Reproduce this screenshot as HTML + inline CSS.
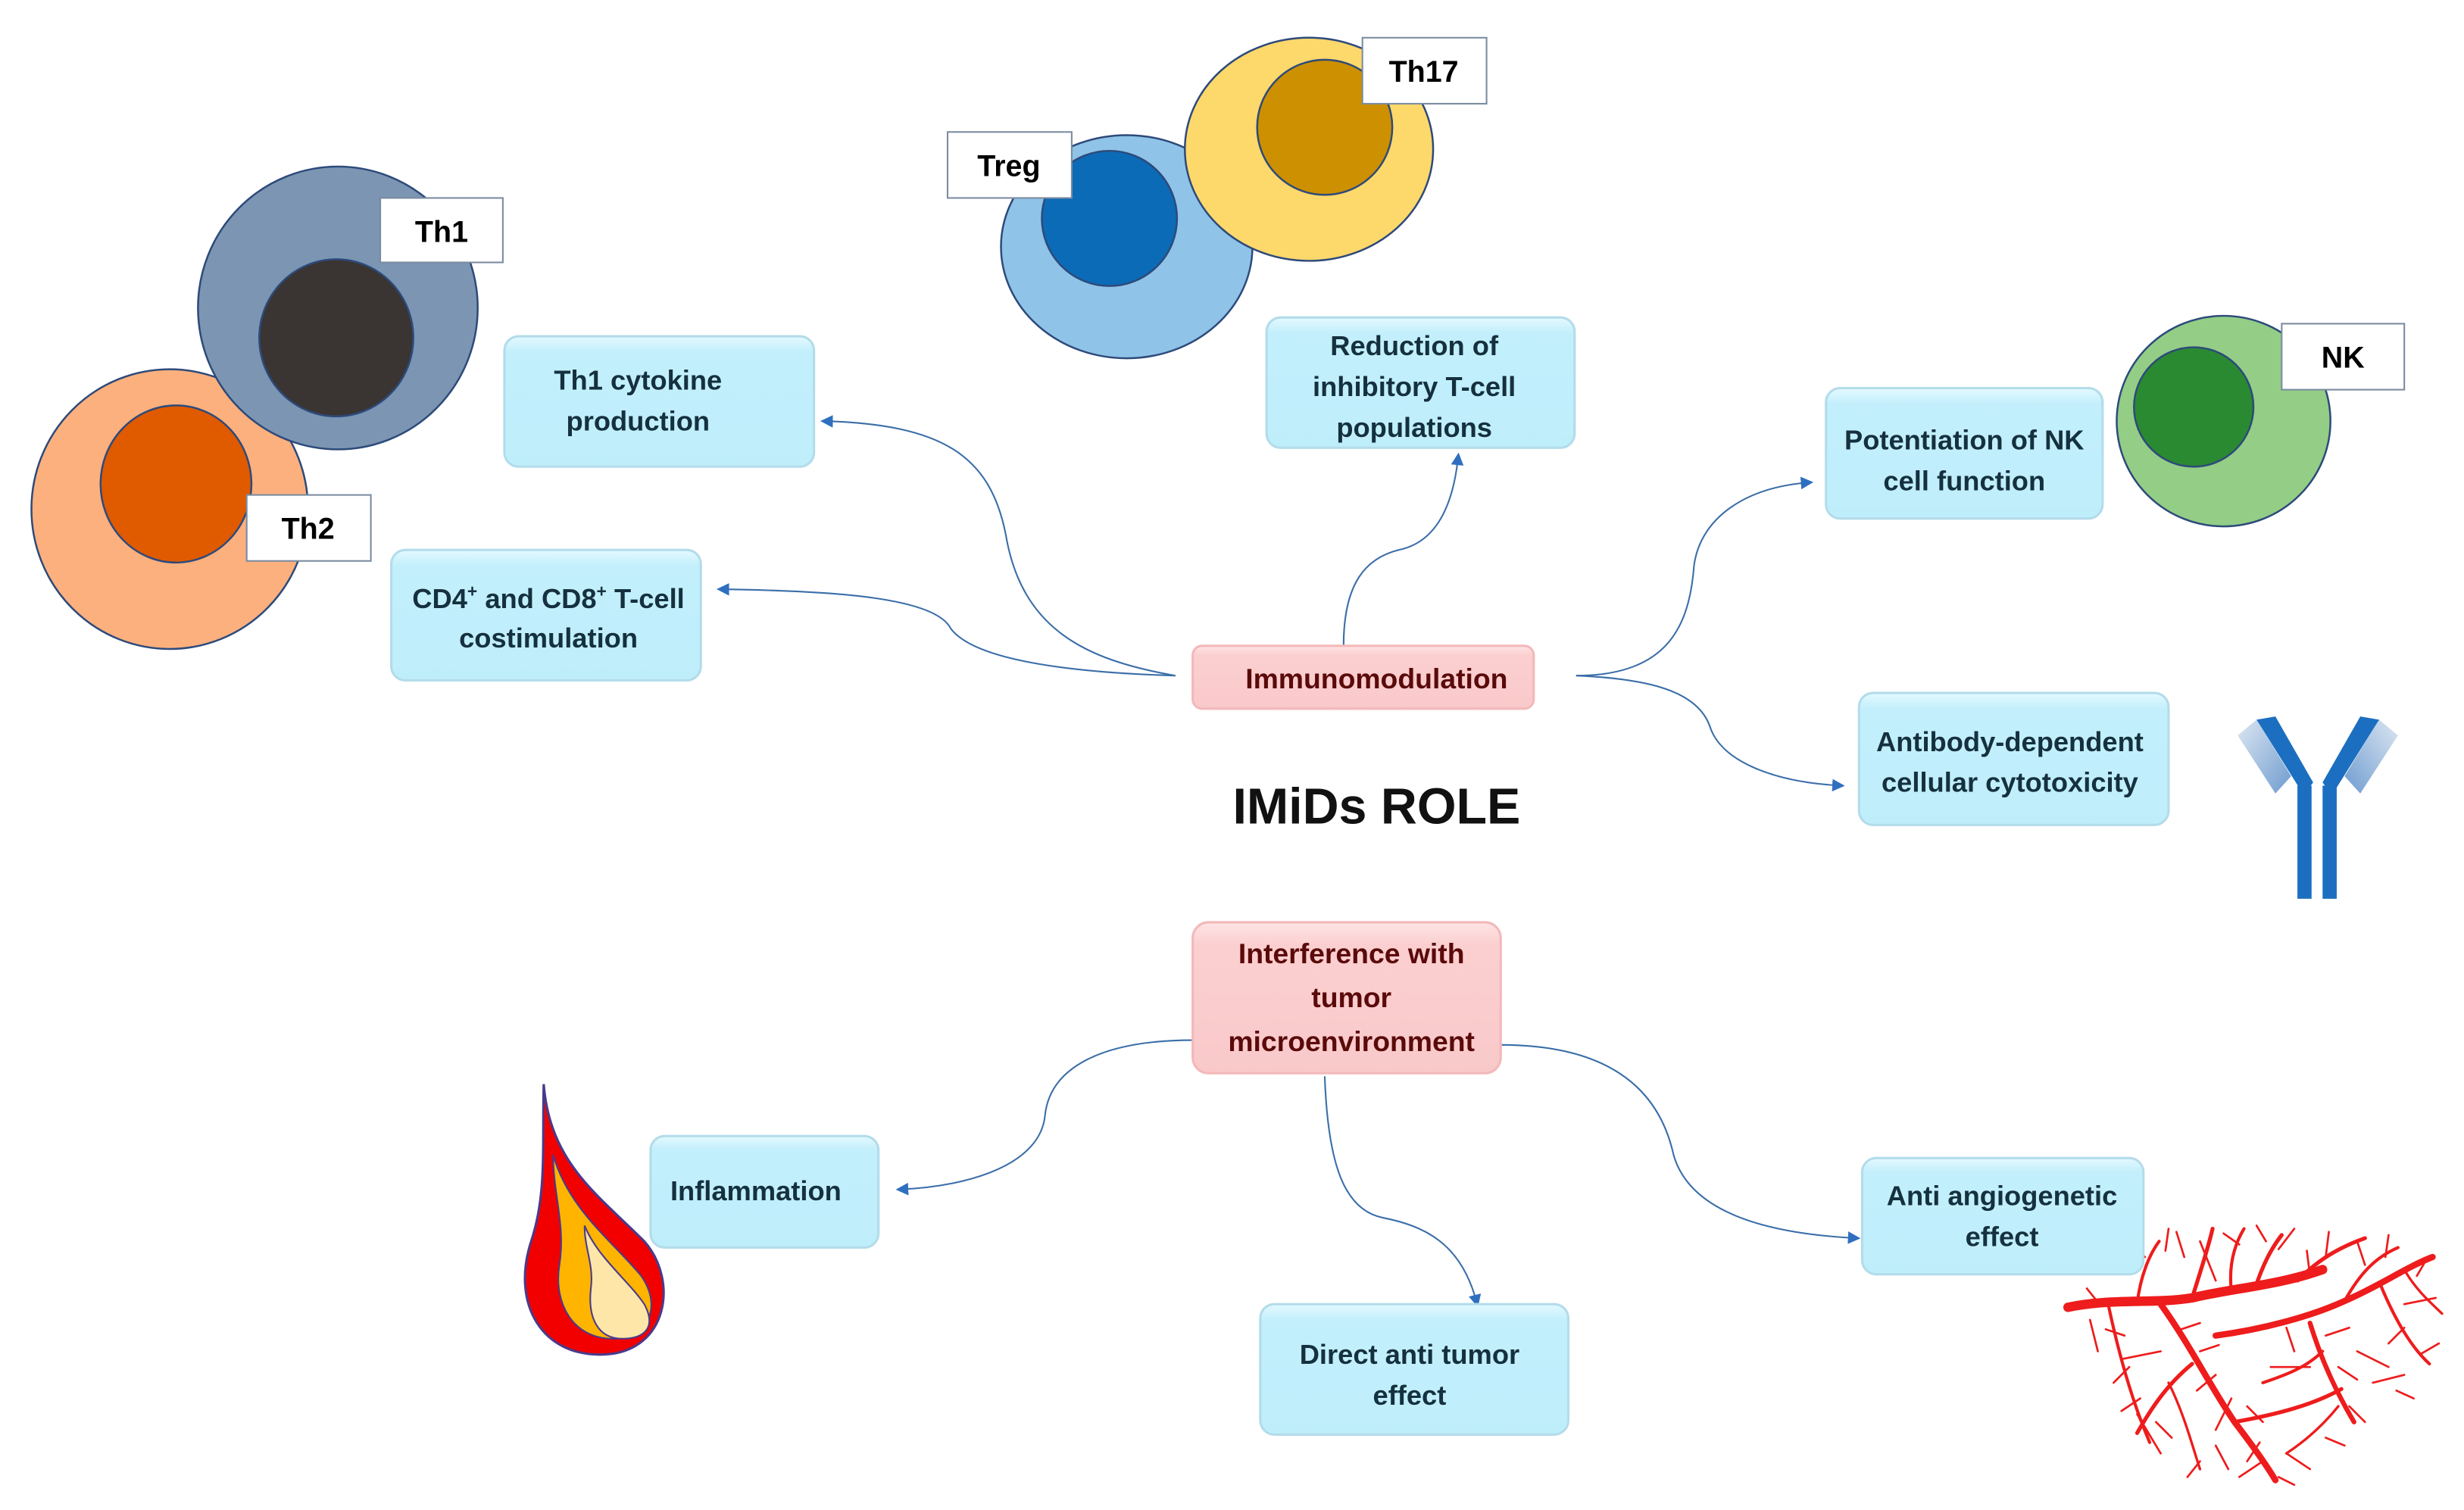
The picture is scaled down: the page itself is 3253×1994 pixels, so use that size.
<!DOCTYPE html>
<html><head><meta charset="utf-8"><style>
html,body{margin:0;padding:0;background:#fff}
svg{display:block}
text{font-family:"Liberation Sans",sans-serif;font-weight:bold}
</style></head><body>
<svg width="3253" height="1994" viewBox="0 0 1568 961" preserveAspectRatio="none" xmlns="http://www.w3.org/2000/svg">
<defs>
<marker id="a" markerWidth="8" markerHeight="8" refX="6" refY="4" orient="auto" markerUnits="userSpaceOnUse"><path d="M0,0 L8,4 L0,8 Z" fill="#2f6fbf"/></marker>
<linearGradient id="bx" x1="0" y1="0" x2="0" y2="1"><stop offset="0" stop-color="#e4f9ff"/><stop offset="0.12" stop-color="#c3effc"/><stop offset="1" stop-color="#bfeefb"/></linearGradient>
<linearGradient id="pk" x1="0" y1="0" x2="0" y2="1"><stop offset="0" stop-color="#ffe4e4"/><stop offset="0.15" stop-color="#fbcfd0"/><stop offset="1" stop-color="#f9c9ca"/></linearGradient>
<linearGradient id="abl" x1="0" y1="0" x2="1" y2="1"><stop offset="0" stop-color="#dce6f2"/><stop offset="1" stop-color="#6f9ccf"/></linearGradient>
<linearGradient id="abr" x1="1" y1="0" x2="0" y2="1"><stop offset="0" stop-color="#dce6f2"/><stop offset="1" stop-color="#6f9ccf"/></linearGradient>
</defs>
<!-- cells -->
<ellipse cx="108" cy="324" rx="88" ry="89" fill="#fcb07e" stroke="#2d4a7a" stroke-width="1.2"/>
<ellipse cx="112" cy="308" rx="48" ry="50" fill="#e05a00" stroke="#2d4a7a" stroke-width="1.2"/>
<ellipse cx="215" cy="196" rx="89" ry="90" fill="#7b95b3" stroke="#2d4a7a" stroke-width="1.2"/>
<ellipse cx="214" cy="215" rx="49" ry="50" fill="#3a3432" stroke="#2d4a7a" stroke-width="1.2"/>
<rect x="242" y="126" width="78" height="41" fill="#fff" stroke="#7a8ca0"/>
<text x="281" y="154" font-size="19" text-anchor="middle">Th1</text>
<rect x="157" y="315" width="79" height="42" fill="#fff" stroke="#7a8ca0"/>
<text x="196" y="343" font-size="19" text-anchor="middle">Th2</text>
<ellipse cx="717" cy="157" rx="80" ry="71" fill="#8fc3e8" stroke="#2d4a7a" stroke-width="1.2"/>
<ellipse cx="706" cy="139" rx="43" ry="43" fill="#0b6bb7" stroke="#2d4a7a" stroke-width="1.2"/>
<ellipse cx="833" cy="95" rx="79" ry="71" fill="#fdd86b" stroke="#2d4a7a" stroke-width="1.2"/>
<ellipse cx="843" cy="81" rx="43" ry="43" fill="#cc9000" stroke="#2d4a7a" stroke-width="1.2"/>
<rect x="603" y="84" width="79" height="42" fill="#fff" stroke="#7a8ca0"/>
<text x="642" y="112" font-size="19" text-anchor="middle">Treg</text>
<rect x="867" y="24" width="79" height="42" fill="#fff" stroke="#7a8ca0"/>
<text x="906" y="52" font-size="19" text-anchor="middle">Th17</text>
<ellipse cx="1415" cy="268" rx="68" ry="67" fill="#93cd86" stroke="#2d4a7a" stroke-width="1.2"/>
<ellipse cx="1396" cy="259" rx="38" ry="38" fill="#2a8a31" stroke="#2d4a7a" stroke-width="1.2"/>
<rect x="1452" y="206" width="78" height="42" fill="#fff" stroke="#7a8ca0"/>
<text x="1491" y="234" font-size="19" text-anchor="middle">NK</text>
<!-- antibody -->
<path d="M1424,468 L1436,458 L1458,494 L1448,505 Z" fill="url(#abl)"/>
<path d="M1526,468 L1514,458 L1492,494 L1502,505 Z" fill="url(#abr)"/>
<path d="M1436,458 L1448,456 L1472,498 L1466,506 Z" fill="#1c6fc0"/>
<path d="M1514,458 L1502,456 L1478,498 L1484,506 Z" fill="#1c6fc0"/>
<rect x="1462" y="500" width="9" height="72" fill="#1c6fc0"/>
<rect x="1478" y="500" width="9" height="72" fill="#1c6fc0"/>
<!-- flame -->
<path d="M346,690 C350,740 380,760 410,790 C432,815 425,860 385,862 C345,864 325,830 338,790 C348,760 345,730 346,690 Z" fill="#f20000" stroke="#4a3a8a" stroke-width="1.5"/>
<path d="M352,735 C362,770 390,790 408,812 C422,832 412,852 390,852 C365,852 352,830 356,805 C360,780 352,760 352,735 Z" fill="#ffb400" stroke="#4a3a8a" stroke-width="1"/>
<path d="M372,780 C380,800 400,815 410,830 C418,845 410,852 396,852 C380,852 374,838 376,820 C378,805 372,795 372,780 Z" fill="#fee6a8" stroke="#4a3a8a" stroke-width="1"/>
<!-- vessel tree -->
<g stroke="#ee1c1c" fill="none" stroke-linecap="round">
<path d="M1316,832 C1345,826 1370,830 1395,826 C1420,820 1450,818 1478,808" stroke-width="6"/>
<path d="M1375,830 C1395,858 1405,880 1422,905 C1435,922 1442,932 1448,942" stroke-width="4"/>
<path d="M1410,850 C1440,846 1470,838 1492,828 C1515,818 1532,806 1548,800" stroke-width="4"/>
<path d="M1395,826 C1400,810 1405,795 1408,782" stroke-width="2.5"/>
<path d="M1435,820 C1440,805 1445,795 1452,786" stroke-width="2.5"/>
<path d="M1462,815 C1475,802 1488,794 1505,788" stroke-width="2.5"/>
<path d="M1470,842 C1478,868 1488,888 1498,905" stroke-width="3"/>
<path d="M1395,868 C1378,882 1368,898 1360,912" stroke-width="2.5"/>
<path d="M1422,905 C1450,900 1472,894 1490,884" stroke-width="2.5"/>
<path d="M1342,832 C1348,860 1356,890 1368,918" stroke-width="2"/>
<path d="M1515,818 C1525,842 1535,858 1546,868" stroke-width="2"/>
<path d="M1492,828 C1502,810 1512,800 1526,794" stroke-width="2"/>
<path d="M1360,830 C1362,812 1368,798 1374,790" stroke-width="2"/>
<path d="M1420,822 C1418,805 1422,792 1428,782" stroke-width="2"/>
<path d="M1530,808 C1538,822 1548,830 1554,836" stroke-width="1.6"/>
<path d="M1440,880 C1455,875 1468,870 1478,860" stroke-width="2"/>
<path d="M1380,880 C1390,900 1395,920 1400,935" stroke-width="1.6"/>
<path d="M1455,925 C1470,915 1480,905 1488,895" stroke-width="1.6"/>
<g stroke-width="1.3">
<path d="M1400,790 L1410,815 M1390,800 L1385,784 M1450,795 L1460,782 M1480,800 L1482,784 M1530,830 L1550,826 M1500,860 L1520,870 M1445,870 L1470,870 M1420,890 L1410,910 M1375,860 L1350,865 M1440,930 L1425,940 M1455,925 L1470,935 M1330,840 L1335,860 M1360,900 L1375,925 M1510,880 L1530,875"/>
<path d="M1352,850 L1340,846 M1355,870 L1345,880 M1362,890 L1350,898 M1372,905 L1382,915 M1388,846 L1400,842 M1400,860 L1412,856 M1410,875 L1398,885 M1430,895 L1440,905 M1438,918 L1430,930 M1460,860 L1455,845 M1480,850 L1495,845 M1488,870 L1500,878 M1495,895 L1505,905 M1520,855 L1530,845 M1540,862 L1552,855 M1505,805 L1500,790 M1518,800 L1520,786 M1538,812 L1545,800 M1470,812 L1468,796 M1425,792 L1415,785 M1442,790 L1436,780 M1365,800 L1356,792 M1378,796 L1380,782 M1336,830 L1328,820 M1400,930 L1392,940 M1410,920 L1418,935 M1450,940 L1460,945 M1480,915 L1492,920 M1525,885 L1536,890"/>
</g>
</g>
<!-- connectors -->
<g fill="none" stroke="#3a6ea8" stroke-width="1" marker-end="url(#a)">
<path d="M748,430 C690,420 650,400 640,340 C630,290 600,270 524,268"/>
<path d="M748,430 C680,428 620,420 605,400 C595,380 530,376 458,375"/>
<path d="M855,411 C855,370 870,355 890,350 C915,345 925,320 928,290"/>
<path d="M1003,430 C1060,430 1075,400 1078,360 C1082,330 1110,310 1152,307"/>
<path d="M1003,430 C1050,432 1080,440 1088,462 C1095,485 1130,498 1172,500"/>
<path d="M759,662 C700,662 668,680 665,710 C662,740 620,755 572,757"/>
<path d="M843,685 C845,740 855,770 880,775 C905,780 930,790 940,830"/>
<path d="M955,665 C1020,665 1055,690 1065,735 C1075,770 1120,785 1182,788"/>
</g>
<!-- cyan boxes -->
<g fill="url(#bx)" stroke="#b3dcea" stroke-width="1.5">
<rect x="321" y="214" width="197" height="83" rx="9"/>
<rect x="806" y="202" width="196" height="83" rx="9"/>
<rect x="1162" y="247" width="176" height="83" rx="9"/>
<rect x="249" y="350" width="197" height="83" rx="9"/>
<rect x="1183" y="441" width="197" height="84" rx="9"/>
<rect x="414" y="723" width="145" height="71" rx="9"/>
<rect x="802" y="830" width="196" height="83" rx="9"/>
<rect x="1185" y="737" width="179" height="74" rx="9"/>
</g>
<g fill="url(#pk)" stroke="#f3b8ba" stroke-width="1.5">
<rect x="759" y="411" width="217" height="40" rx="6"/>
<rect x="759" y="587" width="196" height="96" rx="10"/>
</g>
<g font-size="17.5" fill="#15303e" text-anchor="middle">
<text x="406" y="248">Th1 cytokine</text><text x="406" y="274">production</text>
<text x="900" y="226">Reduction of</text><text x="900" y="252">inhibitory T-cell</text><text x="900" y="278">populations</text>
<text x="1250" y="286">Potentiation of NK</text><text x="1250" y="312">cell function</text>
<text x="349" y="387">CD4<tspan font-size="11" dy="-7">+</tspan><tspan dy="7"> and CD8</tspan><tspan font-size="11" dy="-7">+</tspan><tspan dy="7"> T-cell</tspan></text><text x="349" y="412">costimulation</text>
<text x="1279" y="478">Antibody-dependent</text><text x="1279" y="504">cellular cytotoxicity</text>
<text x="481" y="764">Inflammation</text>
<text x="897" y="868">Direct anti tumor</text><text x="897" y="894">effect</text>
<text x="1274" y="767">Anti angiogenetic</text><text x="1274" y="793">effect</text>
</g>
<g font-size="18" fill="#5a0a0a" text-anchor="middle">
<text x="876" y="438">Immunomodulation</text>
<text x="860" y="613">Interference with</text><text x="860" y="641">tumor</text><text x="860" y="669">microenvironment</text>
</g>
<text x="876" y="524" font-size="32" text-anchor="middle" fill="#111">IMiDs ROLE</text>
</svg>
</body></html>
